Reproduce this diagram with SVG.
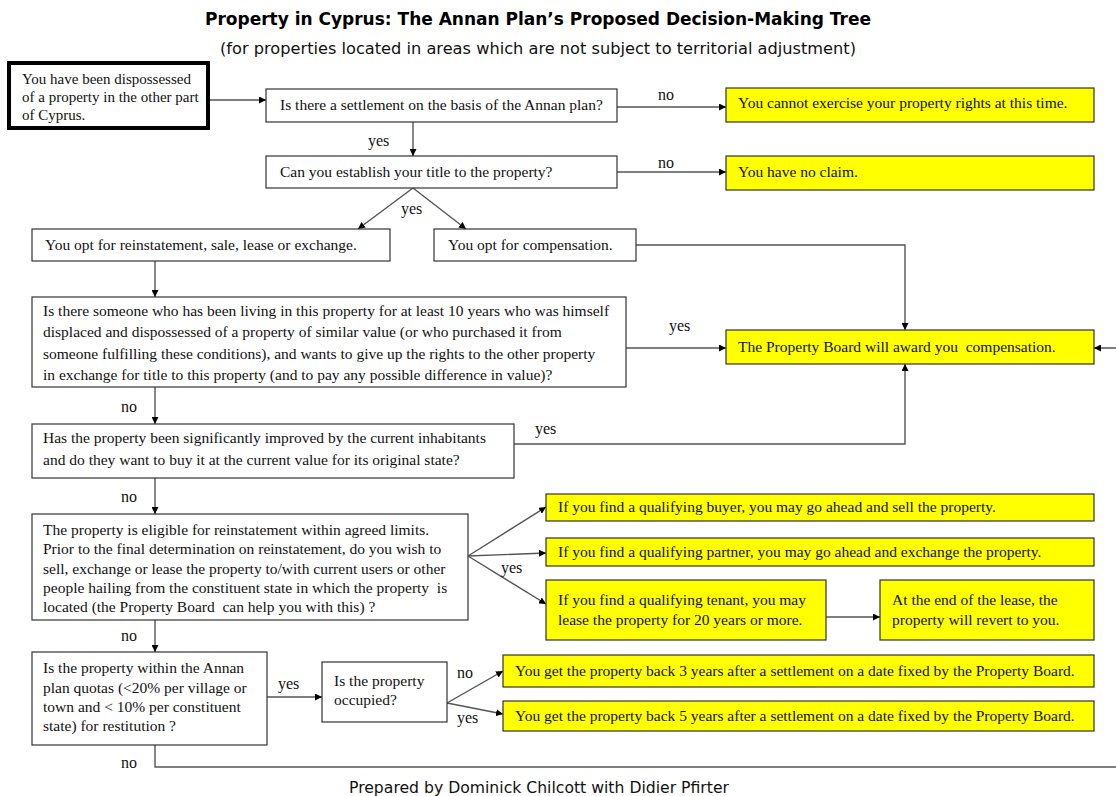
<svg xmlns="http://www.w3.org/2000/svg" width="1116" height="796" viewBox="0 0 1116 796">
<style>
.bg{fill:#ffffff}
.box{fill:#ffffff;stroke:#333333;stroke-width:1.2}
.start{fill:#ffffff;stroke:#000000;stroke-width:4}
.res{fill:#ffff00;stroke:#333333;stroke-width:1.2}
.t{font-family:"Liberation Serif","Times New Roman",serif;font-size:15.5px;fill:#111111}
.ts{font-family:"Liberation Serif","Times New Roman",serif;font-size:15px;fill:#111111}
.lbl{font-family:"Liberation Serif","Times New Roman",serif;font-size:16px;fill:#111111}
.conn{fill:none;stroke:#555555;stroke-width:1.4}
.title{font-family:"DejaVu Sans",Verdana,sans-serif;font-size:17px;font-weight:bold;fill:#000000}
.sub{font-family:"DejaVu Sans",Verdana,sans-serif;font-size:15.5px;fill:#111111}
</style>
<defs>
<marker id="ah" viewBox="0 0 10 10" refX="10" refY="5" markerWidth="7" markerHeight="7" markerUnits="userSpaceOnUse" orient="auto"><path d="M0,0 L10,5 L0,10 z" fill="#000000"/></marker>
</defs>
<rect class="bg" x="0" y="0" width="1116" height="796"/>
<text class="title" x="538" y="25" text-anchor="middle" textLength="666" lengthAdjust="spacingAndGlyphs">Property in Cyprus: The Annan Plan’s Proposed Decision-Making Tree</text>
<text class="sub" x="538" y="54" text-anchor="middle" textLength="636" lengthAdjust="spacingAndGlyphs">(for properties located in areas which are not subject to territorial adjustment)</text>

<g id="connectors">
<path class="conn" d="M209,100 L266,100" marker-end="url(#ah)"/>
<path class="conn" d="M617,107 L726,107" marker-end="url(#ah)"/>
<path class="conn" d="M413,122 L413,156" marker-end="url(#ah)"/>
<path class="conn" d="M617,172 L726,172" marker-end="url(#ah)"/>
<path class="conn" d="M413,188 L358,229" marker-end="url(#ah)"/>
<path class="conn" d="M413,188 L466,229" marker-end="url(#ah)"/>
<path class="conn" d="M636,245 L905,245 L905,330" marker-end="url(#ah)"/>
<path class="conn" d="M155,261 L155,297" marker-end="url(#ah)"/>
<path class="conn" d="M626,348 L726,348" marker-end="url(#ah)"/>
<path class="conn" d="M155,387 L155,424" marker-end="url(#ah)"/>
<path class="conn" d="M514,444 L905,444 L905,364" marker-end="url(#ah)"/>
<path class="conn" d="M155,478 L155,514" marker-end="url(#ah)"/>
<path class="conn" d="M468,556 L546,507" marker-end="url(#ah)"/>
<path class="conn" d="M468,556 L546,553" marker-end="url(#ah)"/>
<path class="conn" d="M468,556 L546,604" marker-end="url(#ah)"/>
<path class="conn" d="M826,617 L880,617" marker-end="url(#ah)"/>
<path class="conn" d="M155,620 L155,652" marker-end="url(#ah)"/>
<path class="conn" d="M267,697 L322,697" marker-end="url(#ah)"/>
<path class="conn" d="M447,703 L503,671" marker-end="url(#ah)"/>
<path class="conn" d="M447,703 L503,714" marker-end="url(#ah)"/>
<path class="conn" d="M155,745 L155,767 L1124,767 L1124,348 L1094,348" marker-end="url(#ah)"/>
<text class="lbl" x="658" y="100">no</text>
<text class="lbl" x="368" y="146">yes</text>
<text class="lbl" x="658" y="168">no</text>
<text class="lbl" x="401" y="214">yes</text>
<text class="lbl" x="669" y="331">yes</text>
<text class="lbl" x="121" y="412">no</text>
<text class="lbl" x="535" y="434">yes</text>
<text class="lbl" x="121" y="502">no</text>
<text class="lbl" x="501" y="573">yes</text>
<text class="lbl" x="121" y="641">no</text>
<text class="lbl" x="278" y="689">yes</text>
<text class="lbl" x="457" y="678">no</text>
<text class="lbl" x="457" y="723">yes</text>
<text class="lbl" x="121" y="768">no</text>
</g>

<g id="start">
<rect class="start" x="9" y="63" width="199" height="65"/>
<text class="ts" x="22" y="84">You have been dispossessed</text>
<text class="ts" x="22" y="102">of a property in the other part</text>
<text class="ts" x="22" y="120">of Cyprus.</text>
</g>
<g id="q-settlement">
<rect class="box" x="266" y="89" width="351" height="33"/>
<text class="t" x="280" y="110">Is there a settlement on the basis of the Annan plan?</text>
</g>
<g id="r-cannot">
<rect class="res" x="726" y="88" width="368" height="34"/>
<text class="t" x="738" y="108">You cannot exercise your property rights at this time.</text>
</g>
<g id="q-title">
<rect class="box" x="266" y="156" width="351" height="32"/>
<text class="t" x="280" y="177">Can you establish your title to the property?</text>
</g>
<g id="r-noclaim">
<rect class="res" x="726" y="156" width="368" height="34"/>
<text class="t" x="738" y="177">You have no claim.</text>
</g>
<g id="opt-reinstate">
<rect class="box" x="32" y="229" width="358" height="32"/>
<text class="t" x="45" y="250">You opt for reinstatement, sale, lease or exchange.</text>
</g>
<g id="opt-comp">
<rect class="box" x="434" y="229" width="202" height="32"/>
<text class="t" x="448" y="250">You opt for compensation.</text>
</g>
<g id="q-someone">
<rect class="box" x="32" y="297" width="594" height="90"/>
<text class="t" x="43" y="316">Is there someone who has been living in this property for at least 10 years who was himself</text>
<text class="t" x="43" y="337">displaced and dispossessed of a property of similar value (or who purchased it from</text>
<text class="t" x="43" y="359">someone fulfilling these conditions), and wants to give up the rights to the other property</text>
<text class="t" x="43" y="380">in exchange for title to this property (and to pay any possible difference in value)?</text>
</g>
<g id="r-board">
<rect class="res" x="726" y="330" width="368" height="34"/>
<text class="t" x="738" y="352" style="white-space:pre">The Property Board will award you  compensation.</text>
</g>
<g id="q-improved">
<rect class="box" x="32" y="424" width="482" height="54"/>
<text class="t" x="43" y="443">Has the property been significantly improved by the current inhabitants</text>
<text class="t" x="43" y="465">and do they want to buy it at the current value for its original state?</text>
</g>
<g id="q-eligible">
<rect class="box" x="32" y="514" width="436" height="106"/>
<text class="t" x="43" y="535">The property is eligible for reinstatement within agreed limits.</text>
<text class="t" x="43" y="554">Prior to the final determination on reinstatement, do you wish to</text>
<text class="t" x="43" y="574">sell, exchange or lease the property to/with current users or other</text>
<text class="t" x="43" y="593" style="white-space:pre">people hailing from the constituent state in which the property  is</text>
<text class="t" x="43" y="612" style="white-space:pre">located (the Property Board  can help you with this) ?</text>
</g>
<g id="r-sell">
<rect class="res" x="546" y="494" width="548" height="27"/>
<text class="t" x="558" y="512">If you find a qualifying buyer, you may go ahead and sell the property.</text>
</g>
<g id="r-exchange">
<rect class="res" x="546" y="538" width="548" height="28"/>
<text class="t" x="558" y="557">If you find a qualifying partner, you may go ahead and exchange the property.</text>
</g>
<g id="r-lease">
<rect class="res" x="546" y="580" width="280" height="60"/>
<text class="t" x="558" y="605">If you find a qualifying tenant, you may</text>
<text class="t" x="558" y="625">lease the property for 20 years or more.</text>
</g>
<g id="r-revert">
<rect class="res" x="880" y="580" width="214" height="60"/>
<text class="t" x="892" y="605">At the end of the lease, the</text>
<text class="t" x="892" y="625">property will revert to you.</text>
</g>
<g id="q-quotas">
<rect class="box" x="32" y="652" width="235" height="93"/>
<text class="t" x="43" y="673">Is the property within the Annan</text>
<text class="t" x="43" y="693">plan quotas (&lt;20% per village or</text>
<text class="t" x="43" y="712">town and &lt; 10% per constituent</text>
<text class="t" x="43" y="731">state) for restitution ?</text>
</g>
<g id="q-occupied">
<rect class="box" x="322" y="662" width="125" height="60"/>
<text class="t" x="334" y="686">Is the property</text>
<text class="t" x="334" y="705">occupied?</text>
</g>
<g id="r-3years">
<rect class="res" x="503" y="655" width="591" height="32"/>
<text class="t" x="515" y="676">You get the property back 3 years after a settlement on a date fixed by the Property Board.</text>
</g>
<g id="r-5years">
<rect class="res" x="503" y="701" width="591" height="30"/>
<text class="t" x="515" y="721">You get the property back 5 years after a settlement on a date fixed by the Property Board.</text>
</g>
<text class="sub" x="539" y="793" text-anchor="middle" textLength="380" lengthAdjust="spacingAndGlyphs">Prepared by Dominick Chilcott with Didier Pfirter</text>
</svg>
